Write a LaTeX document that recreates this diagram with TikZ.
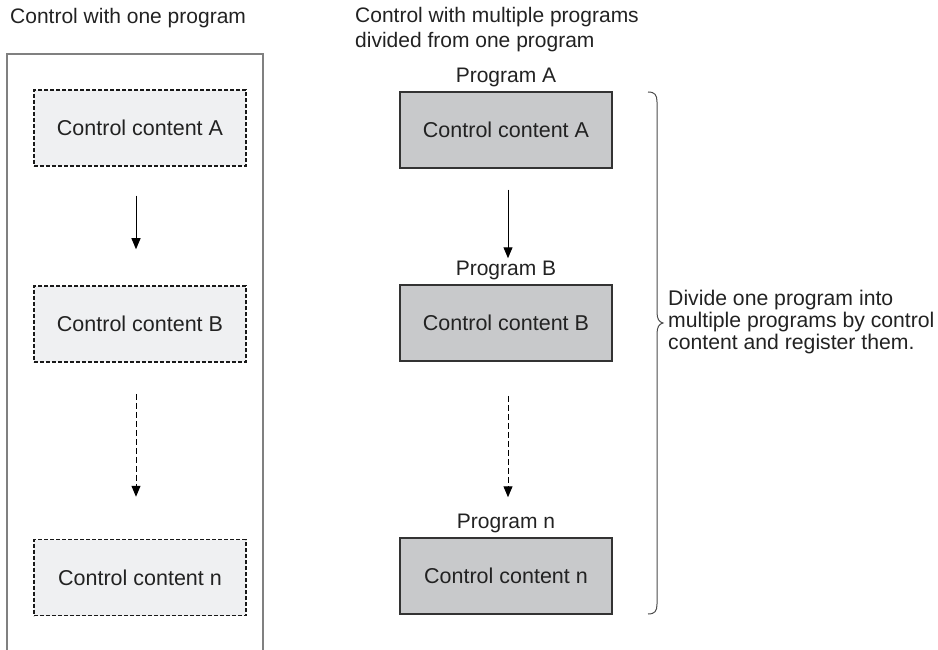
\documentclass[tikz,border=0pt]{standalone}
\usepackage{fontspec}
\setmainfont{Liberation Sans}
\usetikzlibrary{arrows.meta}
\definecolor{txt}{HTML}{222222}
\definecolor{lightbox}{HTML}{EFF0F2}
\definecolor{darkbox}{HTML}{C8C9CB}
\definecolor{framegray}{HTML}{808080}
\tikzset{
  lbl/.style={font=\fontsize{21}{24}\selectfont, text=txt, inner sep=0pt},
  dashbox/.style={draw=black!90, fill=lightbox, line width=1.5pt, dash pattern=on 4pt off 2pt,
    minimum width=212pt, minimum height=76pt, inner sep=0pt, font=\fontsize{21.5}{24}\selectfont, text=txt},
  progbox/.style={draw=black!80, fill=darkbox, line width=1.5pt,
    minimum width=212pt, minimum height=76pt, inner sep=0pt, font=\fontsize{21.5}{24}\selectfont, text=txt},
  arr/.style={line width=1pt, -{Triangle[width=9pt,length=11pt]}},
  darr/.style={arr, dash pattern=on 6pt off 3pt},
}
\begin{document}
\begin{tikzpicture}[x=1pt, y=-1pt]
\useasboundingbox (0,0) rectangle (938,650);
% titles
\node[lbl, anchor=west] (t1) at (10,18) {Control with one program};
\node[lbl, anchor=west, align=left, font=\fontsize{21}{25}\selectfont] (t2) at (355,30) {Control with multiple programs\\divided from one program};
% left frame
\coordinate (fbl) at (7,650);
\coordinate (ftl) at (7,54);
\coordinate (ftr) at (263,54);
\coordinate (fbr) at (263,650);
\draw[framegray, line width=1.5pt] (fbl) -- (ftl) -- (ftr) -- (fbr);
% left boxes
\node[dashbox] (LA) at (140,128) {Control content A};
\node[dashbox] (LB) at (140,324) {Control content B};
\node[dashbox] (LN) at (140,577.5) {Control content n};
\draw[arr] ([xshift=-4pt,yshift=-29pt]LA.south) -- ([xshift=-4pt,yshift=36pt]LB.north);
\draw[darr] ([xshift=-4pt,yshift=-31pt]LB.south) -- ([xshift=-4pt,yshift=42pt]LN.north);
% right boxes
\node[progbox] (RA) at (506,130) {Control content A};
\node[progbox] (RB) at (506,323) {Control content B};
\node[progbox] (RN) at (506,576) {Control content n};
\node[lbl, anchor=south] (PA) at ([yshift=4pt]RA.north) {Program A};
\node[lbl, anchor=south] (PB) at ([yshift=4pt]RB.north) {Program B};
\node[lbl, anchor=south] (PN) at ([yshift=4pt]RN.north) {Program n};
\draw[arr] ([xshift=2pt,yshift=-21pt]RA.south) -- ([xshift=2pt,yshift=26pt]RB.north);
\draw[darr] ([xshift=2pt,yshift=-34pt]RB.south) -- ([xshift=2pt,yshift=40pt]RN.north);
% brace
\coordinate (bt) at (648,92);
\coordinate (bb) at (648,614);
\coordinate (btip) at (663,323);
\draw[black!70, line width=1pt]
  (bt) .. controls (655,92) and (657,95) .. (657,102)
  -- (657,312) .. controls (657,319) and (659,322) .. (btip)
  .. controls (659,324) and (657,327) .. (657,334)
  -- (657,604) .. controls (657,611) and (655,614) .. (bb);
\node[lbl, anchor=west, align=left, font=\fontsize{21.2}{22}\selectfont] (desc) at (668,322)
  {Divide one program into\\multiple programs by control\\content and register them.};
\end{tikzpicture}
\end{document}
